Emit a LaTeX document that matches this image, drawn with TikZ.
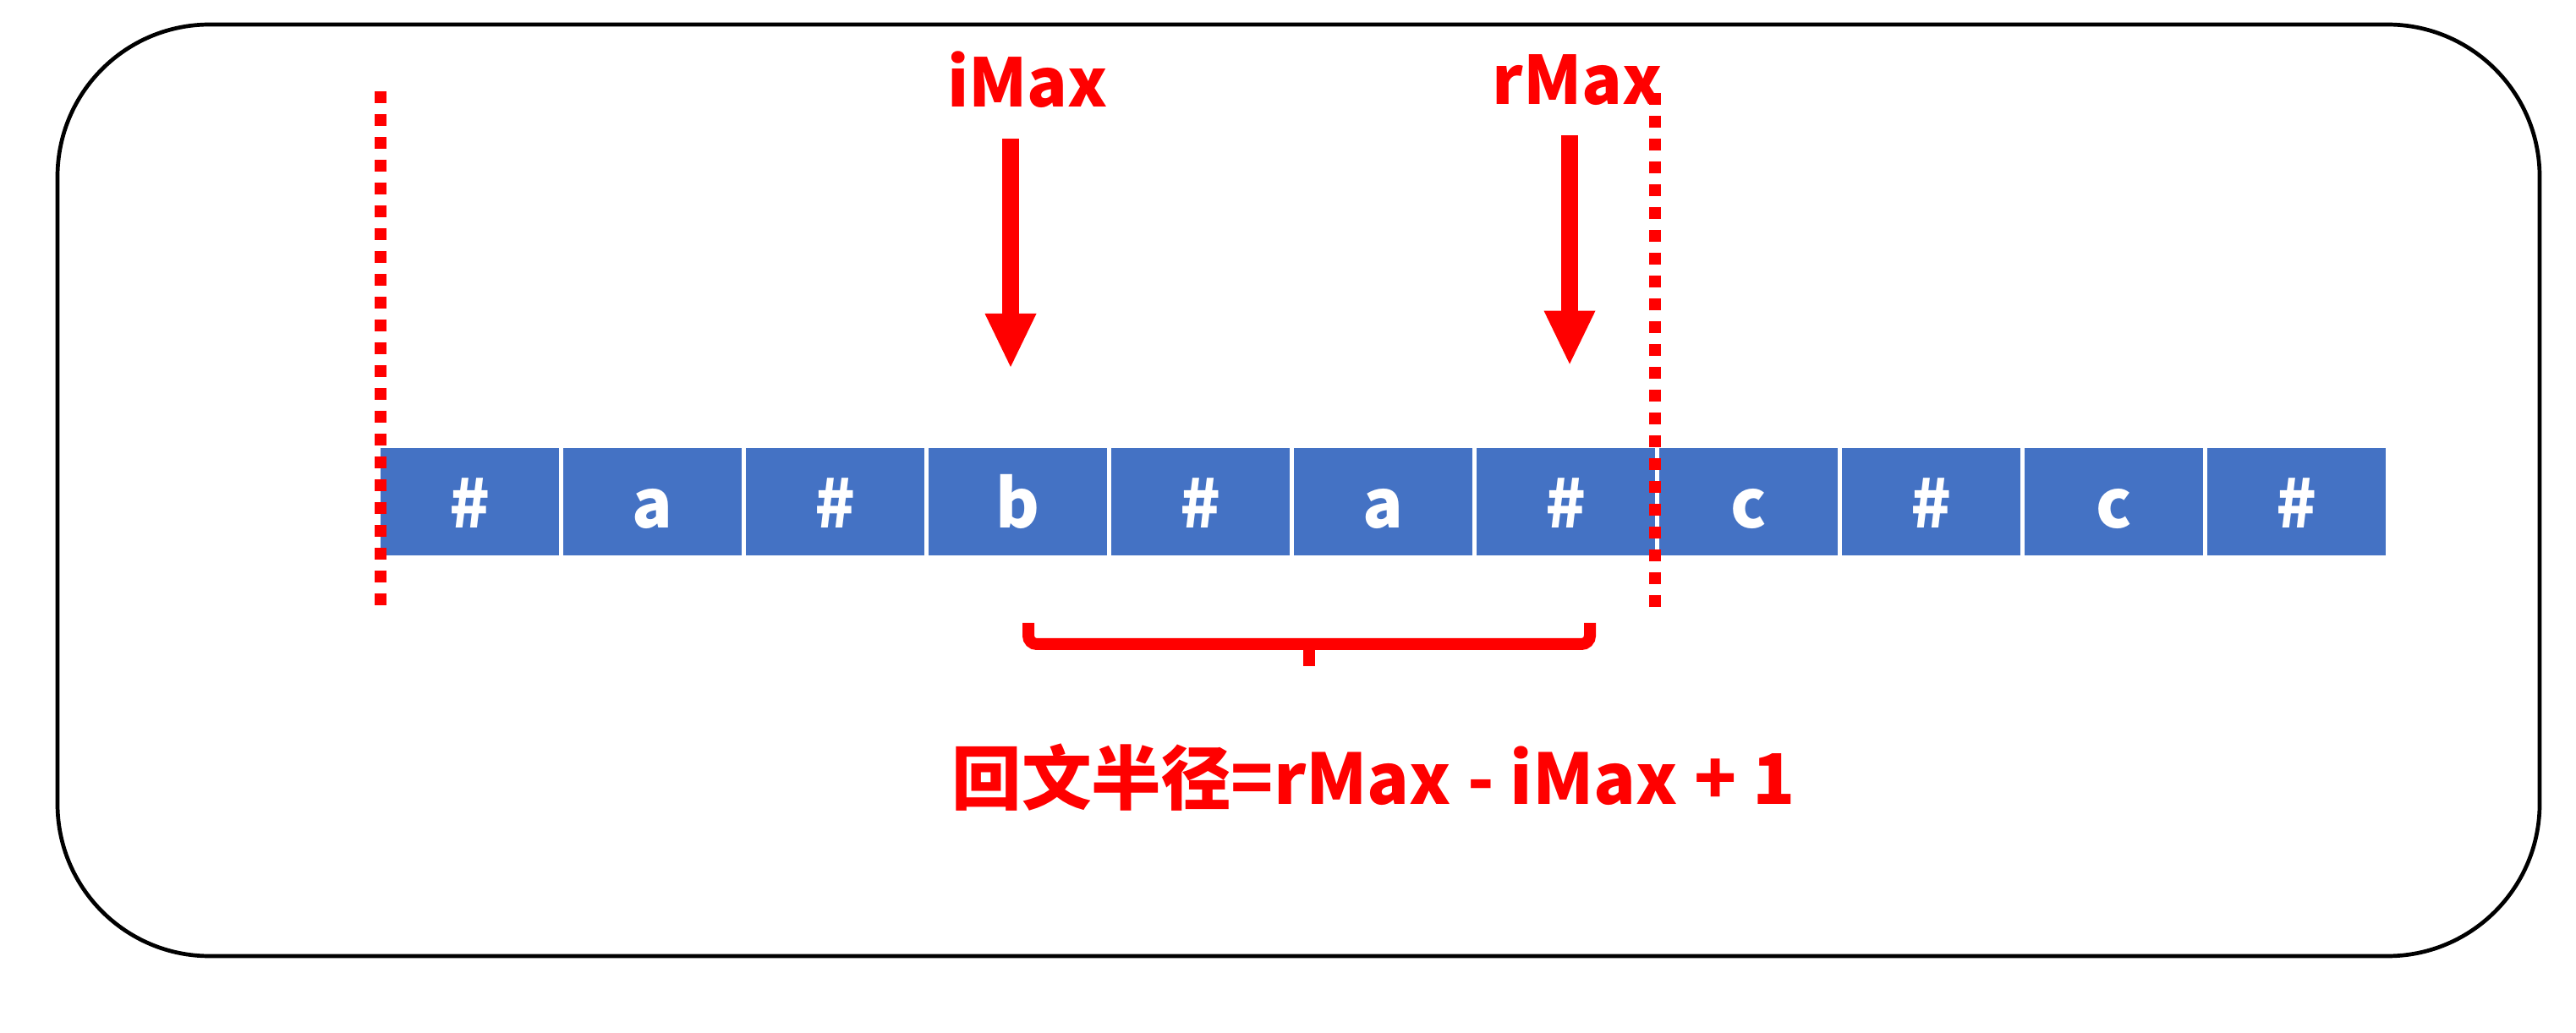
\documentclass[tikz,border=0pt]{standalone}
\usepackage{fontspec}
\setmainfont{Noto Sans CJK SC}
\usetikzlibrary{arrows.meta,positioning}
\definecolor{cellblue}{HTML}{4472C4}
\definecolor{markred}{HTML}{FF0000}
\tikzset{
  cell/.style={fill=cellblue,minimum width=2.11cm,minimum height=1.27cm,inner sep=0pt,outer sep=0pt,
    text=white,text height=0.8cm,text depth=0.17cm,font=\bfseries\fontsize{22.5}{27}\selectfont},
  lbl/.style={text=markred,inner sep=0pt,anchor=base,font=\bfseries\fontsize{22.5}{27}\selectfont},
  ptr/.style={draw=markred,line width=0.2cm,-{Triangle[length=0.63cm,width=0.61cm,line width=0pt]}},
  guide/.style={draw=markred,line width=0.137cm,dash pattern=on 0.137cm off 0.133cm},
  bracket/.style={draw=markred,line width=0.14cm,rounded corners=0.1cm},
  frame/.style={draw=black,line width=0.047cm,rounded corners=1.8cm}
}

\begin{document}
\begin{tikzpicture}[>=Stealth,thick]
  \useasboundingbox (0,0) rectangle (30.46,12.21);
  \draw[frame] (0.68,0.90) rectangle (30.03,11.92);

  \node[cell] (c1) at (5.555,6.275) {\#};
  \foreach \ch [count=\i from 2,remember=\i as \j (initially 1)] in {a,\#,b,\#,a,\#,c,\#,c,\#}
    \node[cell,right=0.05cm of c\j] (c\i) {\ch};

  \draw[guide] (c1.west |- 0,11.13) -- (c1.west |- 0,4.96);
  \draw[guide] (c7.east |- 0,11.11) -- (c7.east |- 0,4.91);

  \node[lbl] (imax) at (12.15,10.94) {iMax};
  \node[lbl] (rmax) at (18.65,10.975) {rMax};
  \coordinate (ibase) at (11.95,10.565);
  \coordinate (itip) at (11.95,7.87);
  \coordinate (rbase) at (18.56,10.605);
  \coordinate (rtip) at (18.56,7.904);
  \draw[ptr] (ibase) -- (itip);
  \draw[ptr] (rbase) -- (rtip);

  \draw[bracket] (12.16,4.84) -- (12.16,4.59) -- (18.80,4.59) -- (18.80,4.84);
  \draw[bracket] (15.48,4.59) -- (15.48,4.33);
  \node[lbl,font=\bfseries\fontsize{23.5}{28}\selectfont] (radius) at (16.24,2.69) {回文半径=rMax - iMax + 1};
\end{tikzpicture}
\end{document}
